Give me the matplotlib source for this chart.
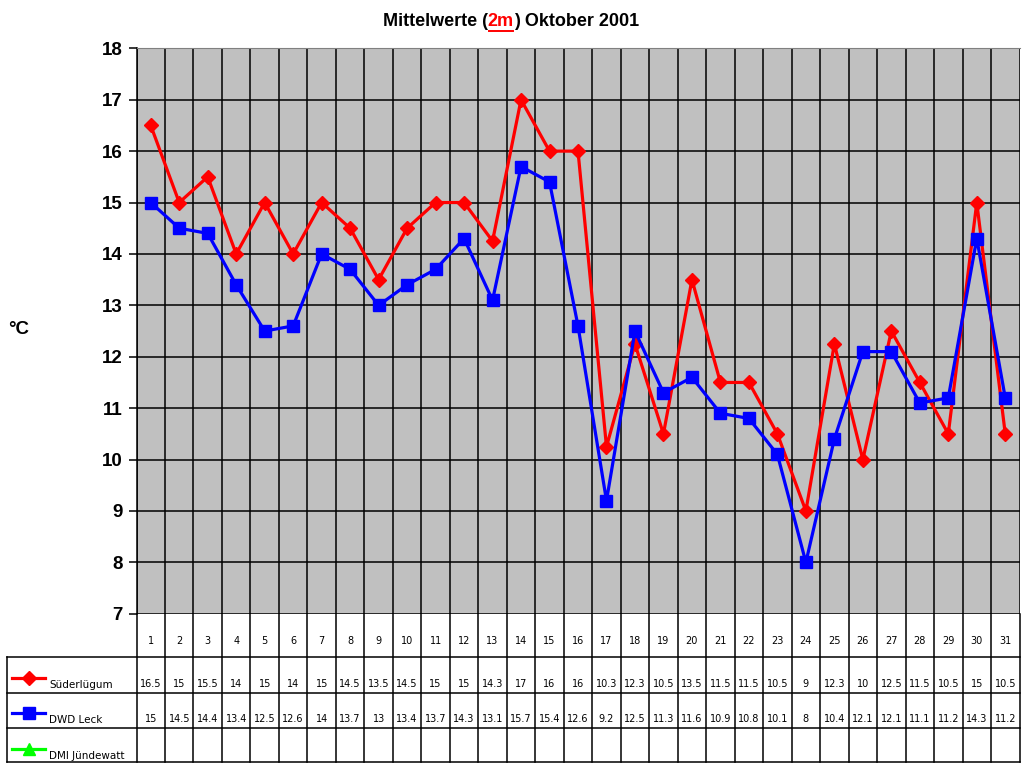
import matplotlib
matplotlib.use('Agg')
import matplotlib.pyplot as plt

days = list(range(1, 32))
suederluegum = [16.5, 15, 15.5, 14, 15, 14, 15, 14.5, 13.5, 14.5, 15, 15, 14.25, 17, 16, 16,
                10.25, 12.25, 10.5, 13.5, 11.5, 11.5, 10.5, 9, 12.25, 10, 12.5, 11.5, 10.5, 15, 10.5]
dwd_leck = [15, 14.5, 14.4, 13.4, 12.5, 12.6, 14, 13.7, 13, 13.4, 13.7, 14.3, 13.1, 15.7, 15.4, 12.6,
            9.2, 12.5, 11.3, 11.6, 10.9, 10.8, 10.1, 8, 10.4, 12.1, 12.1, 11.1, 11.2, 14.3, 11.2]
dmi_juendewatt = [None] * 31
series_names = ['Süderlügum', 'DWD Leck', 'DMI Jündewatt']
series_colors = ['#FF0000', '#0000FF', '#00FF00']
series_markers = ['D', 's', '^']
series_ms = [7.5, 8.5, 8.5]
yticks = list(range(7, 19))


def fmt(v):
    if v is None:
        return ''
    s = '%.1f' % (v + 1e-9)
    return s.rstrip('0').rstrip('.')


W, H = 1024, 768
fig = plt.figure(figsize=(W / 100, H / 100), dpi=100)
plt.rcParams['font.family'] = ['Liberation Sans', 'DejaVu Sans']

# pixel layout
left, right, top, bottom = 136.5, 1019.5, 48.3, 613.8
ax = fig.add_axes([left / W, 1 - bottom / H, (right - left) / W, (bottom - top) / H])
ax.set_facecolor('#C0C0C0')
ax.set_xlim(0.5, 31.5)
ax.set_ylim(7, 18)
for i in range(32):
    ax.axvline(i + 0.5, color='black', lw=1.1, zorder=1)
for t in yticks:
    ax.axhline(t, color='black', lw=1.1, zorder=1)

data = [suederluegum, dwd_leck, dmi_juendewatt]
for vals, name, c, m, ms in zip(data, series_names, series_colors, series_markers, series_ms):
    xs = [d for d, v in zip(days, vals) if v is not None]
    ys = [v for v in vals if v is not None]
    if xs:
        ax.plot(xs, ys, color=c, lw=2.3, marker=m, ms=ms, mec=c, mfc=c, zorder=3)

ax.set_xticks([])
ax.set_yticks(yticks)
ax.set_yticklabels([str(t) for t in yticks], fontsize=13.5, fontweight='bold')
ax.tick_params(axis='y', length=6, width=1.1, color='black', pad=4)
for s in ['right', 'bottom']:
    ax.spines[s].set_visible(False)
ax.spines['top'].set_color('#808080')
ax.spines['left'].set_color('black')
ax.spines['left'].set_linewidth(1.1)

# overlay in pixel coords for table and titles
ov = fig.add_axes([0, 0, 1, 1], zorder=5)
ov.set_xlim(0, W)
ov.set_ylim(H, 0)
ov.axis('off')
ov.patch.set_alpha(0)

colw = (right - left) / 31
row_y = [bottom, 657, 693, 728, 762]
lk = dict(color='black', lw=1.1)
# vertical lines of table
for i in range(32):
    x = left + i * colw
    ov.plot([x, x], [bottom, row_y[-1]], **lk)
ov.plot([7, 7], [row_y[1], row_y[-1]], **lk)
for y in row_y[1:]:
    ov.plot([7, right], [y, y], **lk)

for i, d in enumerate(days):
    xc = left + (i + 0.5) * colw
    ov.text(xc, 641, str(d), ha='center', va='center', fontsize=7, family='DejaVu Sans')
    for r, vals in enumerate(data):
        ov.text(xc, [684, 719, 754][r], fmt(vals[i]), ha='center', va='center',
                fontsize=7, family='DejaVu Sans')

for r, (name, c, m, ms) in enumerate(zip(series_names, series_colors, series_markers, series_ms)):
    ly = [678, 713, 749][r]
    ov.plot([12, 45], [ly, ly], color=c, lw=2.3)
    ov.plot([28.5], [ly], marker=m, color=c, ms=ms)
    ov.text(49, ly + 7, name, ha='left', va='center', fontsize=7.5, family='DejaVu Sans')

ov.text(8, 330, '°C', ha='left', va='center', fontsize=13.5, fontweight='bold')

# title with red underlined part
parts = [('Mittelwerte (', 'black'), ('2m', '#FF0000'), (') Oktober 2001', 'black')]
r = fig.canvas.get_renderer()
texts = []
for s, c in parts:
    t = ov.text(0, 21, s, color=c, fontsize=13, fontweight='bold', ha='left', va='center')
    texts.append(t)
widths = [t.get_window_extent(r).width for t in texts]
x = 511 - sum(widths) / 2
for t, w in zip(texts, widths):
    t.set_x(x)
    x += w
x2 = 511 - sum(widths) / 2 + widths[0]
ov.plot([x2 + 1, x2 + widths[1] - 1], [30.5, 30.5], color='#FF0000', lw=1.4)

fig.savefig('out.png', dpi=100)
